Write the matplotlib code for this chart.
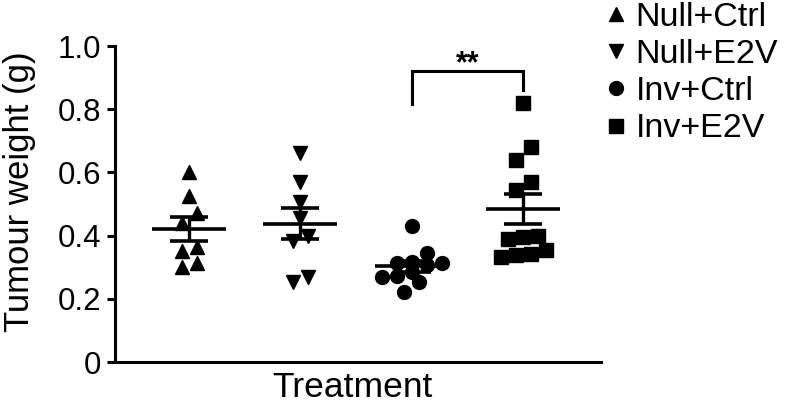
import matplotlib
matplotlib.use('Agg')
import matplotlib.pyplot as plt
import numpy as np

plt.rcParams['font.family'] = ['Liberation Sans', 'DejaVu Sans']

# ---------------- data ----------------
groups = ['Null+Ctrl', 'Null+E2V', 'Inv+Ctrl', 'Inv+E2V']
null_ctrl = [0.60, 0.525, 0.472, 0.44, 0.365, 0.35, 0.314, 0.30]
null_e2v = [0.662, 0.57, 0.507, 0.455, 0.40, 0.384, 0.27, 0.254]
inv_ctrl = [0.431, 0.346, 0.317, 0.314, 0.312, 0.307, 0.286, 0.273, 0.268, 0.254, 0.222]
inv_e2v = [0.82, 0.68, 0.64, 0.57, 0.545, 0.40, 0.397, 0.39, 0.354, 0.342, 0.339, 0.333]
y_ticks = [0, 0.2, 0.4, 0.6, 0.8, 1.0]
y_tick_labels = ['0', '0.2', '0.4', '0.6', '0.8', '1.0']
x_label = 'Treatment'
y_label = 'Tumour weight (g)'
sig_text = '**'
sig_pair = (2, 3)
sig_levels = (0.815, 0.922, 0.861)  # left leg bottom, bracket top, right leg bottom

series = [null_ctrl, null_e2v, inv_ctrl, inv_e2v]
markers = ['^', 'v', 'o', 's']
msizes = [9.5, 9.5, 10, 9.5]

# ---------------- figure ----------------
W, H = 787, 407
fig = plt.figure(figsize=(W / 100, H / 100), dpi=100)
ax = fig.add_axes([115 / W, 45 / H, 486 / W, 316 / H])
ax.set_xlim(-0.665, 3.70)
ax.set_ylim(0, 1.0)

for s in ['top', 'right']:
    ax.spines[s].set_visible(False)
for s in ['left', 'bottom']:
    ax.spines[s].set_linewidth(2.2)
ax.set_xticks([])
ax.set_yticks(y_ticks)
ax.set_yticklabels(y_tick_labels)
ax.tick_params(axis='y', length=6, width=2.2, labelsize=22.5, pad=4)


def binned_offsets(vals, step_px=15.0, bin_px=14.0):
    """Prism-like scatter: points within one row-bin are spread symmetrically."""
    p0 = ax.transData.transform((0, 0))
    p1 = ax.transData.transform((1, 1))
    sx, sy = p1[0] - p0[0], p1[1] - p0[1]
    v = np.sort(np.asarray(vals))
    offs = np.zeros(len(v))
    i = 0
    while i < len(v):
        j = i
        while j + 1 < len(v) and (v[j + 1] - v[i]) * sy < bin_px:
            j += 1
        n = j - i + 1
        for k in range(n):
            offs[i + k] = (k - (n - 1) / 2) * step_px / sx
        i = j + 1
    return v, offs


handles = []
for i, vals in enumerate(series):
    v_sorted, offs = binned_offsets(vals)
    h, = ax.plot(i + offs, v_sorted, linestyle='none', marker=markers[i],
                 markersize=msizes[i], color='black', label=groups[i], zorder=3)
    handles.append(h)
    v = np.asarray(vals)
    mean = v.mean()
    sem = v.std(ddof=1) / np.sqrt(len(v))
    ax.hlines(mean, i - 0.333, i + 0.333, color='black', linewidth=2.6, zorder=4)
    ax.errorbar([i], [mean], yerr=[sem], fmt='none', ecolor='black',
                elinewidth=2.4, capsize=13.7, capthick=2.6, zorder=4)

# significance bracket
a, b = sig_pair
l0, top, r0 = sig_levels
ax.plot([a, a, b, b], [l0, top, top, r0], color='black', linewidth=2.2,
        solid_joinstyle='miter', clip_on=False)
ax.text((a + b) / 2, top - 0.005, sig_text, ha='center', va='baseline',
        fontsize=22, fontweight='bold', clip_on=False)

# labels
ax.set_ylabel(y_label, fontsize=25)
ax.yaxis.set_label_coords(-0.162, 0.54)
ax.set_xlabel(x_label, fontsize=25.5)
ax.xaxis.set_label_coords(0.488, -0.03)

leg = ax.legend(handles=handles, loc='upper left',
                bbox_to_anchor=(608 / W, 0.995), bbox_transform=fig.transFigure,
                frameon=False, fontsize=24.5, handlelength=0.48,
                handletextpad=0.33, labelspacing=0.18, borderpad=0.0,
                borderaxespad=0.0, markerscale=1.0)

fig.savefig('out.png', dpi=100)
